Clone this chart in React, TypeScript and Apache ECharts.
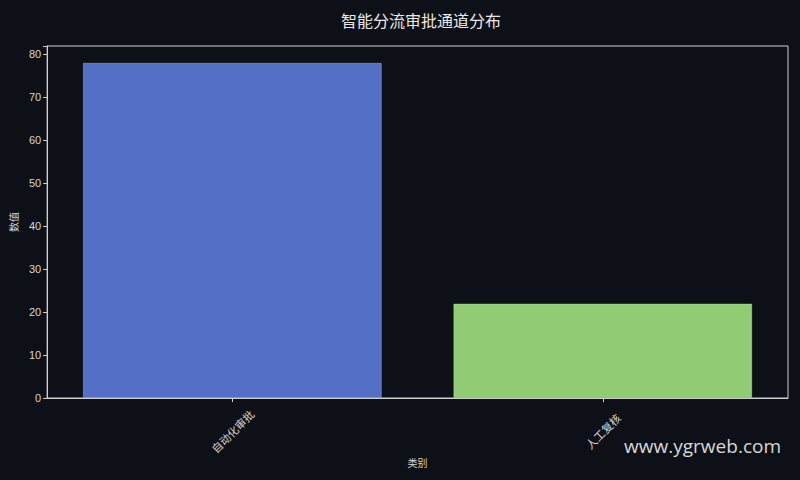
import React, { useEffect, useRef } from 'react';
import * as echarts from 'echarts';

const categories: string[] = ['自动化审批', '人工复核'];
const values: number[] = [78, 22];
const barColors: string[] = ['#5470c6', '#91cc75'];
const yTicks: number[] = [0, 10, 20, 30, 40, 50, 60, 70, 80];

const BG = '#0d1017';
const FG = '#d6d6d6';
const CJK = '"Noto Sans CJK SC", "DejaVu Sans", sans-serif';

const App: React.FC = () => {
    const chartRef = useRef<HTMLDivElement>(null);

    useEffect(() => {
        document.body.style.margin = '0';
        document.body.style.background = BG;
        const chartDom = chartRef.current!;
        const myChart = echarts.init(chartDom, undefined, { renderer: 'svg' });

        const option: any = {
            animation: false,
            backgroundColor: BG,
            title: {
                text: '智能分流审批通道分布',
                left: 416,
                top: 7,
                textAlign: 'center',
                textStyle: { color: '#e8e8e8', fontSize: 16, fontWeight: 'normal', fontFamily: CJK },
            },
            grid: {
                left: 47,
                right: 12,
                top: 46,
                bottom: 82,
                show: true,
                borderColor: '#cfcfcf',
                borderWidth: 1,
                backgroundColor: 'transparent',
            },
            xAxis: {
                type: 'category',
                data: categories,
                name: '类别',
                nameLocation: 'middle',
                nameGap: 59,
                nameMoveOverlap: false,
                nameTextStyle: { color: FG, fontSize: 10, fontFamily: CJK },
                axisLine: { show: true, lineStyle: { color: '#cfcfcf', width: 1 } },
                axisTick: { show: true, alignWithLabel: true, length: 4, lineStyle: { color: '#cfcfcf' } },
                axisLabel: {
                    color: FG,
                    fontSize: 11,
                    rotate: 45,
                    align: 'center',
                    verticalAlign: 'middle',
                    margin: 33,
                    fontFamily: CJK,
                },
                splitLine: { show: false },
            },
            yAxis: {
                type: 'value',
                min: 0,
                max: 81.9,
                interval: 10,
                name: '数值',
                nameLocation: 'middle',
                nameGap: 28,
                nameRotate: 90,
                nameTextStyle: { color: FG, fontSize: 10, fontFamily: CJK },
                axisLine: { show: true, lineStyle: { color: '#cfcfcf', width: 1 } },
                axisTick: { show: true, length: 4, lineStyle: { color: '#cfcfcf' } },
                axisLabel: {
                    color: FG,
                    fontSize: 11,
                    margin: 6,
                    fontFamily: '"Liberation Sans", Arial, sans-serif',
                    formatter: (v: number) => (yTicks.includes(v) ? String(v) : ''),
                },
                splitLine: { show: false },
            },
            series: [
                {
                    type: 'bar',
                    barWidth: 299,
                    data: values.map((v, i) => ({
                        value: v,
                        itemStyle: { color: barColors[i], borderColor: 'rgba(255,255,255,0.25)', borderWidth: 1 },
                    })),
                },
            ],
            graphic: [
                {
                    type: 'text',
                    right: 19,
                    top: 436,
                    style: {
                        text: 'www.ygrweb.com',
                        fill: '#d8d8d8',
                        fontSize: 19,
                        fontFamily: '"Open Sans", "Noto Sans", sans-serif',
                    },
                },
            ],
        };

        myChart.setOption(option);

        return () => {
            myChart.dispose();
        };
    }, []);

    return <div ref={chartRef} style={{ width: 800, height: 480 }} />;
};

export default App;
